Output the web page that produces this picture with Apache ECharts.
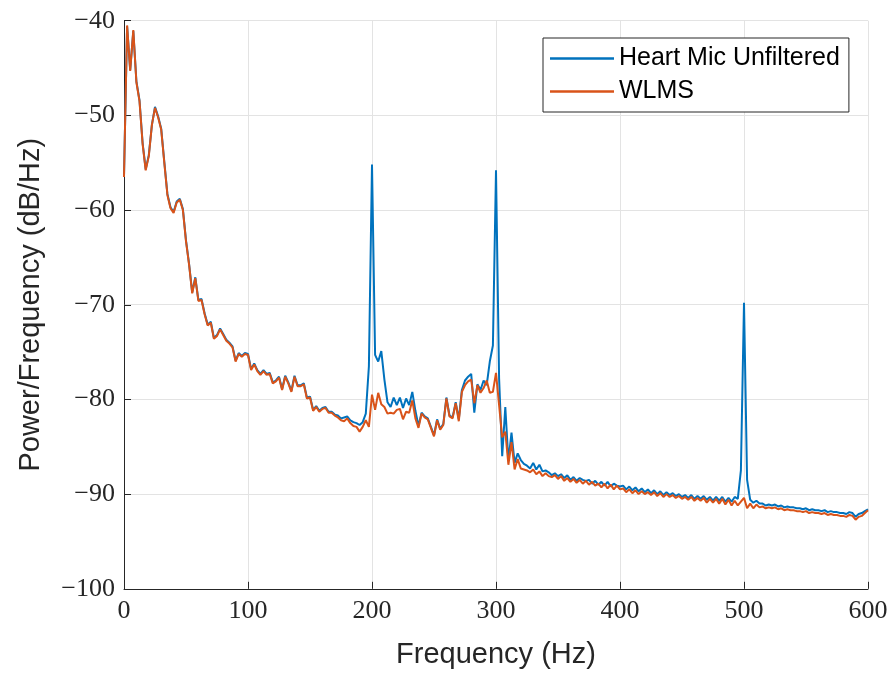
<!DOCTYPE html>
<html>
<head>
<meta charset="utf-8">
<script src="https://cdn.jsdelivr.net/npm/echarts@6/dist/echarts.min.js"></script>
<style>html,body{margin:0;padding:0;background:#fff}#c{width:894px;height:675px}</style>
</head>
<body>
<div id="c"></div>
<script>
// Frequency bins (Hz), 2.5 Hz spacing from 0 to 600
const freqStep = 2.5;
const freqCount = 241;

// Heart Mic Unfiltered (dB/Hz)
const heartMic = [
-56.4,-40.6,-45.2,-41.1,-46.4,-48.4,-52.9,-55.7,-54.2,-51.0,
-49.1,-50.1,-51.4,-54.9,-58.3,-59.7,-60.2,-59.1,-58.8,-59.9,
-63.2,-65.7,-68.7,-67.1,-69.5,-69.4,-70.9,-72.1,-71.8,-73.5,
-73.2,-72.5,-73.1,-73.7,-74.0,-74.4,-75.9,-75.1,-75.4,-75.1,
-75.2,-76.8,-76.2,-76.9,-77.3,-76.9,-77.3,-77.2,-78.2,-78.0,
-77.6,-78.9,-77.5,-78.2,-79.1,-77.5,-78.5,-78.5,-78.3,-79.8,
-79.7,-81.1,-80.7,-81.2,-80.9,-80.8,-81.3,-81.3,-81.6,-81.7,
-82.0,-81.9,-81.8,-82.2,-82.4,-82.5,-82.7,-82.4,-81.5,-76.5,
-55.2,-75.3,-76.0,-74.9,-77.9,-80.3,-80.8,-79.8,-80.6,-79.8,
-80.9,-79.9,-80.6,-79.2,-81.2,-82.8,-81.4,-81.8,-82.0,-82.9,
-83.8,-82.1,-83.1,-82.6,-79.8,-81.7,-81.9,-80.3,-82.1,-79.0,
-78.0,-77.6,-77.3,-81.4,-78.4,-79.0,-78.0,-78.5,-76.0,-74.3,
-55.8,-77.8,-86.0,-80.8,-86.5,-83.5,-86.7,-85.7,-86.4,-86.8,
-87.0,-87.3,-86.7,-87.4,-86.9,-87.6,-87.5,-87.7,-88.0,-87.8,
-88.1,-87.9,-88.3,-88.0,-88.5,-88.2,-88.6,-88.3,-88.5,-88.6,
-88.5,-88.9,-88.6,-89.0,-88.7,-89.1,-88.7,-89.2,-88.9,-89.1,
-89.2,-89.1,-89.5,-89.2,-89.6,-89.3,-89.7,-89.4,-89.8,-89.5,
-89.9,-89.6,-90.0,-89.7,-90.1,-89.8,-90.1,-89.9,-90.2,-90.0,
-90.3,-90.1,-90.4,-90.1,-90.5,-90.2,-90.5,-90.2,-90.6,-90.3,
-90.7,-90.3,-90.7,-90.3,-90.8,-90.4,-90.8,-90.3,-90.5,-87.5,
-69.8,-88.5,-90.6,-90.9,-90.7,-91.0,-91.0,-91.2,-91.1,-91.2,
-91.1,-91.3,-91.2,-91.4,-91.3,-91.4,-91.4,-91.5,-91.5,-91.6,
-91.5,-91.7,-91.6,-91.7,-91.7,-91.8,-91.7,-91.9,-91.8,-91.9,
-91.9,-92.0,-92.0,-92.1,-91.9,-92.0,-92.4,-92.1,-92.0,-91.8,
-91.6
];

// WLMS (dB/Hz)
const wlms = [
-56.5,-40.5,-45.3,-41.0,-46.5,-48.5,-53.0,-55.8,-54.3,-51.0,
-49.2,-50.2,-51.5,-55.0,-58.4,-59.8,-60.3,-59.2,-58.9,-60.0,
-63.3,-65.8,-68.8,-67.2,-69.6,-69.5,-71.0,-72.2,-71.9,-73.6,
-73.3,-72.6,-73.2,-73.8,-74.1,-74.5,-76.0,-75.2,-75.5,-75.2,
-75.3,-76.9,-76.3,-77.0,-77.4,-77.0,-77.4,-77.3,-78.3,-78.1,
-77.7,-79.0,-77.6,-78.3,-79.2,-77.6,-78.6,-78.6,-78.4,-79.9,
-79.8,-81.2,-80.8,-81.3,-81.0,-80.9,-81.4,-81.4,-81.7,-81.9,
-82.2,-82.3,-82.0,-82.5,-82.8,-82.9,-83.4,-82.9,-82.2,-82.9,
-79.5,-81.1,-79.3,-80.5,-80.8,-81.5,-81.4,-81.5,-81.1,-81.0,
-82.1,-81.3,-81.4,-80.1,-82.0,-83.0,-81.5,-81.9,-82.1,-83.0,
-83.9,-82.2,-83.2,-82.7,-79.9,-81.8,-82.0,-80.4,-82.3,-79.2,
-78.5,-78.1,-77.9,-80.4,-78.5,-79.3,-78.8,-78.0,-79.3,-79.2,
-77.2,-80.6,-84.0,-83.4,-86.9,-84.5,-87.4,-86.3,-87.3,-87.4,
-87.5,-87.7,-87.4,-87.9,-87.6,-88.1,-87.8,-88.1,-88.2,-88.0,
-88.4,-88.1,-88.6,-88.3,-88.7,-88.4,-88.8,-88.5,-88.9,-88.6,
-89.0,-88.7,-89.1,-88.9,-89.3,-88.9,-89.4,-89.0,-89.5,-89.1,
-89.5,-89.4,-89.8,-89.5,-89.9,-89.6,-90.0,-89.7,-90.0,-89.8,
-90.1,-89.8,-90.2,-89.9,-90.3,-90.0,-90.3,-90.1,-90.4,-90.2,
-90.5,-90.3,-90.6,-90.3,-90.7,-90.4,-90.7,-90.4,-90.9,-90.5,
-90.9,-90.5,-91.0,-90.5,-91.1,-90.6,-91.2,-90.7,-91.2,-90.8,
-90.4,-91.5,-91.0,-91.5,-91.1,-91.4,-91.3,-91.5,-91.4,-91.5,
-91.4,-91.6,-91.5,-91.7,-91.6,-91.7,-91.7,-91.8,-91.8,-91.9,
-91.8,-92.0,-91.9,-92.0,-92.0,-92.1,-92.0,-92.2,-92.1,-92.2,
-92.2,-92.3,-92.3,-92.4,-92.2,-92.3,-92.7,-92.4,-92.3,-92.0,
-91.7
];

const seriesNames = ['Heart Mic Unfiltered', 'WLMS'];
const xTicks = [0, 100, 200, 300, 400, 500, 600];
const yTicks = [-100, -90, -80, -70, -60, -50, -40];

const freqs = [];
for (let i = 0; i < freqCount; i++) freqs.push(i * freqStep);
const toPairs = arr => arr.map((v, i) => [freqs[i], v]);

const chart = echarts.init(document.getElementById('c'), null, {renderer: 'canvas'});
const axisColor = '#262626';
const gridColor = '#e3e3e3';
chart.setOption({
  animation: false,
  backgroundColor: '#ffffff',
  grid: {left: 124, right: 26, top: 20.7, bottom: 86.2, containLabel: false},
  legend: {
    orient: 'vertical', left: 543, top: 38,
    padding: [8, 9, 8, 7],
    backgroundColor: '#ffffff', borderColor: axisColor, borderWidth: 1,
    itemWidth: 64, itemHeight: 2.4, itemGap: 8, icon: 'rect',
    textStyle: {fontFamily: 'Liberation Sans', fontSize: 25, color: '#000', lineHeight: 25},
    data: seriesNames
  },
  xAxis: {
    type: 'value', min: xTicks[0], max: xTicks[xTicks.length - 1], interval: 100,
    name: 'Frequency (Hz)', nameLocation: 'middle', nameGap: 52,
    nameTextStyle: {fontFamily: 'Liberation Sans', fontSize: 29, color: axisColor},
    axisLine: {show: true, onZero: false, lineStyle: {color: axisColor, width: 1}},
    axisTick: {show: true, inside: true, length: 7, lineStyle: {color: axisColor}},
    axisLabel: {fontFamily: 'Liberation Serif', fontSize: 26, color: axisColor, margin: 9},
    splitLine: {show: true, lineStyle: {color: gridColor, width: 1}}
  },
  yAxis: {
    type: 'value', min: yTicks[0], max: yTicks[yTicks.length - 1], interval: 10,
    name: 'Power/Frequency (dB/Hz)', nameLocation: 'middle', nameGap: 79, nameRotate: 90,
    nameTextStyle: {fontFamily: 'Liberation Sans', fontSize: 29, color: axisColor},
    axisLine: {show: true, onZero: false, lineStyle: {color: axisColor, width: 1}},
    axisTick: {show: true, inside: true, length: 7, lineStyle: {color: axisColor}},
    axisLabel: {fontFamily: 'Liberation Serif', fontSize: 26, color: axisColor, margin: 9,
      formatter: v => (v < 0 ? '\u2212' + Math.abs(v) : String(v))},
    splitLine: {show: true, lineStyle: {color: gridColor, width: 1}}
  },
  series: [
    {name: seriesNames[0], type: 'line', data: toPairs(heartMic), symbol: 'none',
     lineStyle: {color: '#0072BD', width: 2}, itemStyle: {color: '#0072BD'}, z: 2},
    {name: seriesNames[1], type: 'line', data: toPairs(wlms), symbol: 'none',
     lineStyle: {color: '#D95319', width: 2}, itemStyle: {color: '#D95319'}, z: 3}
  ]
});
</script>
</body>
</html>
